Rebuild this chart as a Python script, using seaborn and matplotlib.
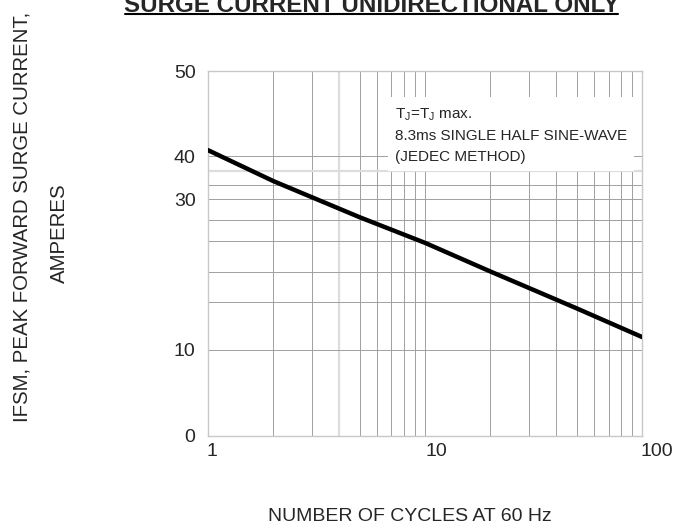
import matplotlib
matplotlib.use("Agg")
import matplotlib.pyplot as plt
from matplotlib.transforms import ScaledTranslation
import numpy as np
import pandas as pd
import seaborn as sns

# data
cycles = [1, 2, 5, 10, 20, 50, 100]
surge_current = [40.7, 34.2, 27.6, 24.2, 20.4, 15.5, 11.7]

# y axis of the original is not linear: labelled values and where they sit (0..1)
y_labels = [0, 10, 30, 40, 50]
y_label_pos = [0.0, 0.236, 0.649, 0.767, 1.0]
y_minor_grid = [16.3, 20.4, 24.5, 27.2, 33.3, 36.5]

x_ticks = [1, 10, 100]

sns.set_style("white")
plt.rcParams["font.family"] = ["Liberation Sans", "DejaVu Sans"]

df = pd.DataFrame({"cycles": cycles, "current": surge_current})

fig = plt.figure(figsize=(6.89, 5.31), dpi=100)
ax = fig.add_axes([0.302, 0.179, 0.630, 0.687])

fwd = lambda v: np.interp(v, y_labels, y_label_pos)
inv = lambda p: np.interp(p, y_label_pos, y_labels)
ax.set_yscale("function", functions=(fwd, inv))
ax.set_xscale("log")

sns.lineplot(data=df, x="cycles", y="current", ax=ax, color="black",
             linewidth=3.2, solid_capstyle="round", zorder=5)

ax.set_xlim(1, 100)
ax.set_ylim(0, 50)

# grid
for xv in list(range(2, 10)) + list(range(20, 100, 10)) + [10]:
    if xv == 4:
        ax.axvline(xv, color="#dddddd", lw=1.6, zorder=1)
    else:
        ax.axvline(xv, color="#a0a0a0", lw=0.7, zorder=1)
for yv in [10, 30, 40] + y_minor_grid:
    if yv == 36.5:
        ax.axhline(yv, color="#dddddd", lw=1.6, zorder=1)
    else:
        ax.axhline(yv, color="#a0a0a0", lw=0.7, zorder=1)

for s in ax.spines.values():
    s.set_color("#c8c8c8")
    s.set_linewidth(1.0)

ax.set_xticks(x_ticks)
ax.set_xticklabels(["1", "10", "100"])
ax.xaxis.set_minor_locator(matplotlib.ticker.NullLocator())
ax.set_yticks(y_labels)
ax.set_yticklabels([str(v) for v in y_labels])
ax.yaxis.set_minor_locator(matplotlib.ticker.NullLocator())
ax.tick_params(axis="both", length=0, labelsize=14)
ax.tick_params(axis="x", pad=5)
ax.tick_params(axis="y", pad=9)
# tick labels in the original sit a bit right of their gridlines
for lbl, dx in zip(ax.get_xticklabels(), [4, 11, 15]):
    lbl.set_transform(lbl.get_transform() + ScaledTranslation(dx / 100, 0, fig.dpi_scale_trans))

ax.set_xlabel("")
ax.set_ylabel("")

ax.text(0.43, 0.905,
        "T$_\\mathregular{J}$=T$_\\mathregular{J}$ max.\n8.3ms SINGLE HALF SINE-WAVE\n(JEDEC METHOD)",
        transform=ax.transAxes, fontsize=11, va="top", ha="left",
        linespacing=1.62, zorder=6,
        bbox=dict(facecolor="white", edgecolor="none", pad=5))

fig.text(0.595, 0.012, "NUMBER OF CYCLES AT 60 Hz", ha="center", va="bottom", fontsize=14)
fig.text(0.032, 0.591, "IFSM, PEAK FORWARD SURGE CURRENT,", rotation=90,
         ha="center", va="center", fontsize=14.7)
fig.text(0.087, 0.561, "AMPERES", rotation=90, ha="center", va="center", fontsize=14.7)

fig.text(0.54, 0.977, "SURGE CURRENT UNIDIRECTIONAL ONLY", ha="center",
         va="baseline", fontsize=17.4, fontweight="bold")
fig.add_artist(plt.Line2D([0.181, 0.897], [0.973, 0.973], color="black", lw=1.5))

fig.savefig("out.png", dpi=100)
